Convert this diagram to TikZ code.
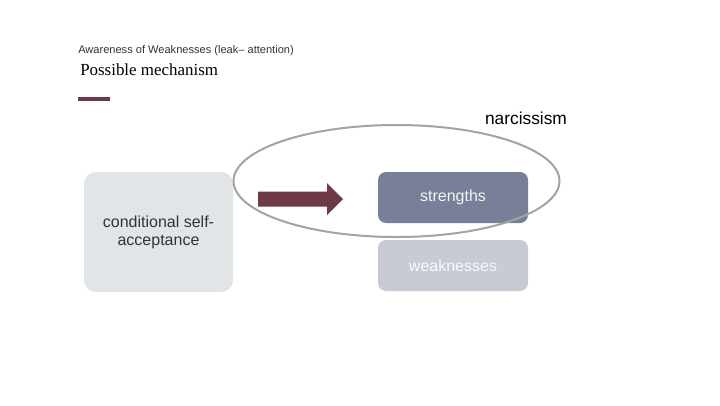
\documentclass[tikz,border=0pt]{standalone}
\usepackage{fontspec}
\setmainfont{Liberation Sans}
\newfontfamily\titleserif{Liberation Serif}
\usetikzlibrary{shapes.geometric}
\definecolor{maroon}{HTML}{6E3A45}
\definecolor{condfill}{HTML}{E1E5E8}
\definecolor{strfill}{HTML}{7A7F99}
\definecolor{weakfill}{HTML}{C8CAD4}
\definecolor{ellgray}{HTML}{A3A3A3}
\definecolor{txtgray}{HTML}{333333}
\tikzset{
  box/.style={rounded corners=9pt, inner sep=0pt, align=center, font=\fontsize{12}{13.5}\selectfont},
}
\begin{document}
\begin{tikzpicture}[x=0.75pt,y=-0.75pt]
\useasboundingbox (0,0) rectangle (720,405);
\node[anchor=base west, inner sep=0, text=txtgray, font=\fontsize{8.3}{9}\selectfont] (sub) at (78,53) {Awareness of Weaknesses (leak– attention)};
\node[anchor=base west, inner sep=0, text=black, font=\titleserif\fontsize{12.7}{15}\selectfont] (title) at (80,75) {Possible mechanism};
\coordinate (l1) at (78,99);
\coordinate (l2) at (110,99);
\draw[maroon, line width=2.4pt] (l1) -- (l2);
\node[anchor=base, inner sep=0, font=\fontsize{13}{15}\selectfont] (narc) at (526,124) {narcissism};
\node[box, fill=condfill, text=txtgray, minimum width=149*0.75pt, minimum height=120*0.75pt] (cond) at (158.5,232) {conditional self-\\acceptance};
\node[box, rounded corners=6pt, fill=strfill, text=white!92!gray, minimum width=150*0.75pt, minimum height=51*0.75pt] (str) at (453,197.5) {strengths};
\node[box, rounded corners=6pt, fill=weakfill, text=white!95!gray, minimum width=150*0.75pt, minimum height=51*0.75pt] (weak) at (453,265.5) {weaknesses};
% block arrow
\coordinate (a1) at (258,191.5);
\coordinate (a2) at (327,191.5);
\coordinate (a3) at (327,183);
\coordinate (a4) at (343,199);
\coordinate (a5) at (327,215);
\coordinate (a6) at (327,206.5);
\coordinate (a7) at (258,206.5);
\fill[maroon] (a1) -- (a2) -- (a3) -- (a4) -- (a5) -- (a6) -- (a7) -- cycle;
\node[ellipse, draw=ellgray, line width=1.5pt, minimum width=326*0.75pt, minimum height=112*0.75pt, inner sep=0pt] (ell) at (396.5,181) {};
\end{tikzpicture}
\end{document}
